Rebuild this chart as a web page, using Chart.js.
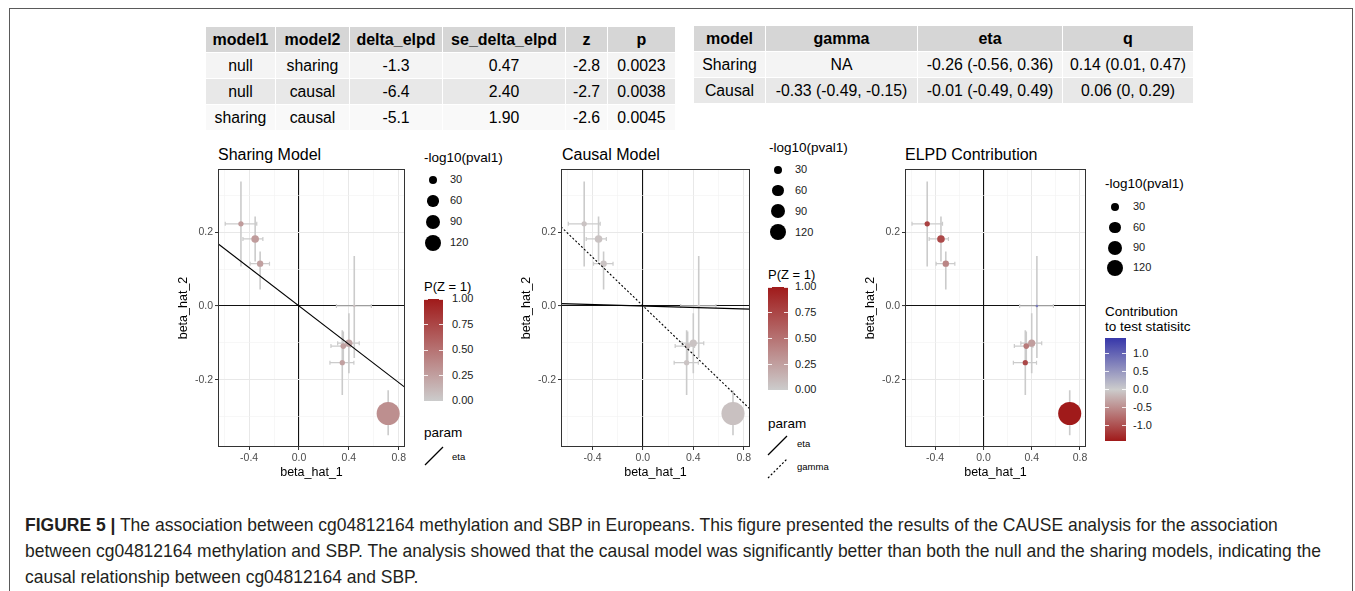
<!DOCTYPE html>
<html>
<head>
<meta charset="utf-8">
<title>CAUSE analysis: cg04812164 and SBP</title>
<script src="https://cdn.jsdelivr.net/npm/chart.js@4.4.1/dist/chart.umd.min.js"></script>
<style>
  html, body { margin: 0; padding: 0; background: #fff; }
  body { width: 1355px; height: 591px; position: relative; overflow: hidden;
         font-family: 'Liberation Sans', Arial, Helvetica, sans-serif; color: #000; }
  #frame { position: absolute; left: 9px; top: 8px; width: 1344px; height: 700px;
           border: 1.5px solid #5a5a5a; box-sizing: border-box; }
  table.tbl { position: absolute; border-collapse: collapse; table-layout: fixed; font-size: 15.8px; }
  .tbl th, .tbl td { height: 25px; padding: 0; text-align: center; border: 1.5px solid #fff; white-space: nowrap; }
  .tbl th { background: #d6d6d6; font-weight: bold; font-size: 16px; }
  .tbl tr.light td { background: #f4f4f4; }
  .tbl tr.grey td { background: #e8e8e8; }
  .tbl tr.white td { background: #f9f9f9; }
  canvas { position: absolute; top: 140px; }
  .ptitle { position: absolute; top: 145px; font-size: 16px; line-height: 1.2; white-space: nowrap; }
  .lt { position: absolute; white-space: nowrap; line-height: 1.2; }
  .dot { position: absolute; background: #000; border-radius: 50%; }
  .bar { position: absolute; }
  .btick { position: absolute; height: 1px; width: 4px; background: rgba(255,255,255,0.85); }
  #caption { position: absolute; left: 25px; top: 512px; line-height: 26px; font-size: 16px; color: #231f20; }
  #caption .ln { display: inline-block; white-space: nowrap; }
</style>
</head>
<body>
<div id="frame"></div>

<div class="ptitle" style="left:218px">Sharing Model</div>
<div class="ptitle" style="left:562px">Causal Model</div>
<div class="ptitle" style="left:905px">ELPD Contribution</div>

<canvas id="sharing" width="240" height="340" style="left:170px"></canvas>
<canvas id="causal" width="242" height="340" style="left:513px"></canvas>
<canvas id="elpd" width="234" height="340" style="left:857px"></canvas>

<div id="caption">
  <span class="ln"><b>FIGURE 5 |</b> The association between cg04812164 methylation and SBP in Europeans. This figure presented the results of the CAUSE analysis for the association</span><br>
  <span class="ln">between cg04812164 methylation and SBP. The analysis showed that the causal model was significantly better than both the null and the sharing models, indicating the</span><br>
  <span class="ln">causal relationship between cg04812164 and SBP.</span>
</div>

<script>
// ---- table contents ----
const cmpHeader = ['model1', 'model2', 'delta_elpd', 'se_delta_elpd', 'z', 'p'];
const cmpRows = [
  ['null', 'sharing', '-1.3', '0.47', '-2.8', '0.0023'],
  ['null', 'causal', '-6.4', '2.40', '-2.7', '0.0038'],
  ['sharing', 'causal', '-5.1', '1.90', '-2.6', '0.0045']
];
const paramHeader = ['model', 'gamma', 'eta', 'q'];
const paramRows = [
  ['Sharing', 'NA', '-0.26 (-0.56, 0.36)', '0.14 (0.01, 0.47)'],
  ['Causal', '-0.33 (-0.49, -0.15)', '-0.01 (-0.49, 0.49)', '0.06 (0, 0.29)']
];

// ---- variant data (same 8 variants in every panel) ----
const beta1   = [-0.466, -0.352, -0.312, 0.443, 0.400, 0.355, 0.347, 0.715];
const beta2   = [0.223, 0.182, 0.115, 0.000, -0.101, -0.109, -0.154, -0.292];
const beta1Lo = [-0.592, -0.450, -0.392, 0.300, 0.310, 0.256, 0.248, 0.690];
const beta1Hi = [-0.339, -0.290, -0.237, 0.580, 0.483, 0.410, 0.440, 0.740];
const beta2Lo = [0.107, 0.121, 0.045, -0.141, -0.183, -0.149, -0.242, -0.351];
const beta2Hi = [0.338, 0.243, 0.148, 0.136, -0.020, -0.069, -0.066, -0.229];
const negLog10P = [13, 27, 19, 3, 24, 15, 13, 250];
const pzSharing = [0.27, 0.27, 0.25, 0.08, 0.22, 0.25, 0.25, 0.34];
const pzCausal  = [0.05, 0.05, 0.05, 0.04, 0.05, 0.05, 0.05, 0.06];
const elpdContrib = [-1.12, -1.05, -0.57, 0.8, -0.37, -0.66, -1.06, -1.43];

// fitted lines (end points)
const sharingEtaX = [-0.65, 0.85], sharingEtaY = [0.169, -0.221];
const causalEtaX = [-0.65, 0.85],  causalEtaY = [0.0065, -0.0085];
const causalGammaX = [-0.65, 0.85], causalGammaY = [0.215, -0.28];

// legend breaks
const sizeBreaks = [30, 60, 90, 120];
const pzBreaks = [0, 0.25, 0.5, 0.75, 1];
const pzLimits = [0, 1];
const contribBreaks = [-1, -0.5, 0, 0.5, 1];
const contribLimits = [-1.43, 1.43];

const xRange = [-0.65, 0.85];
const yRange = [-0.383, 0.372];

Chart.defaults.font.family = "'Liberation Sans', Arial, Helvetica, sans-serif";

// ---- tables ----
function buildTable(header, rows, widths, left, top, rowClasses) {
  const t = document.createElement('table');
  t.className = 'tbl';
  t.style.left = left + 'px';
  t.style.top = top + 'px';
  const cg = document.createElement('colgroup');
  widths.forEach(w => { const c = document.createElement('col'); c.style.width = w + 'px'; cg.appendChild(c); });
  t.appendChild(cg);
  const hr = t.insertRow();
  header.forEach(h => { const th = document.createElement('th'); th.textContent = h; hr.appendChild(th); });
  rows.forEach((r, i) => {
    const tr = t.insertRow();
    tr.className = rowClasses[i];
    r.forEach(v => { tr.insertCell().textContent = v; });
  });
  document.body.appendChild(t);
}
buildTable(cmpHeader, cmpRows, [70, 74, 93, 123, 42, 68], 205, 26, ['light', 'grey', 'white']);
buildTable(paramHeader, paramRows, [72, 152, 145, 131], 693, 25, ['light', 'grey']);

// ---- scales for aesthetics ----
const sizeRadius = v => 0.73 * Math.sqrt(v);
const mix = (a, b, t) => a.map((c, i) => Math.round(c + (b[i] - c) * t));
const GREY = [204, 204, 204], RED = [160, 26, 26], BLUE = [55, 55, 170];
const pzColor = v => 'rgb(' + mix(GREY, RED, v) + ')';
const contribColor = v => v < 0
  ? 'rgb(' + mix(GREY, RED, v / contribLimits[0]) + ')'
  : 'rgb(' + mix(GREY, BLUE, v / contribLimits[1]) + ')';

// ---- plugins ----
const errorBars = {
  id: 'errorBars',
  beforeDatasetsDraw(chart) {
    const {ctx, chartArea: a, scales: {x, y}} = chart;
    ctx.save();
    ctx.beginPath();
    ctx.rect(a.left, a.top, a.right - a.left, a.bottom - a.top);
    ctx.clip();
    ctx.strokeStyle = '#cbcbcb';
    ctx.lineWidth = 1.6;
    ctx.beginPath();
    beta1.forEach((b, i) => {
      const px = x.getPixelForValue(b);
      ctx.moveTo(px, y.getPixelForValue(beta2Lo[i]));
      ctx.lineTo(px, y.getPixelForValue(beta2Hi[i]));
    });
    ctx.stroke();
    ctx.lineWidth = 1.2;
    ctx.beginPath();
    beta1.forEach((b, i) => {
      const py = y.getPixelForValue(beta2[i]);
      const xl = x.getPixelForValue(beta1Lo[i]), xr = x.getPixelForValue(beta1Hi[i]);
      ctx.moveTo(xl, py); ctx.lineTo(xr, py);
      ctx.moveTo(xl, py - 2); ctx.lineTo(xl, py + 2);
      ctx.moveTo(xr, py - 2); ctx.lineTo(xr, py + 2);
    });
    ctx.stroke();
    ctx.restore();
  }
};

const panelBox = {
  id: 'panelBox',
  afterDatasetsDraw(chart) {
    const {ctx, chartArea: a} = chart;
    ctx.save();
    ctx.strokeStyle = '#333';
    ctx.lineWidth = 1;
    ctx.strokeRect(a.left + 0.5, a.top + 0.5, a.right - a.left - 1, a.bottom - a.top - 1);
    ctx.restore();
  }
};

const isMajorX = v => Math.round(v * 10) % 4 === 0;
const isMajorY = v => Math.round(v * 10) % 2 === 0;

function gridFor(isMajor) {
  return {
    color: c => !c.tick ? '#eee' : c.tick.value === 0 ? '#111' : isMajor(c.tick.value) ? '#e8e8e8' : '#f2f2f2',
    lineWidth: c => !c.tick ? 1 : c.tick.value === 0 ? 1.1 : isMajor(c.tick.value) ? 1 : 0.6,
    tickColor: c => c.tick && isMajor(c.tick.value) ? '#333' : 'rgba(0,0,0,0)',
    tickLength: 3,
    tickWidth: 1
  };
}

function pointSet(colors) {
  return {
    type: 'scatter',
    data: beta1.map((b, i) => ({x: b, y: beta2[i]})),
    pointRadius: negLog10P.map(sizeRadius),
    pointHoverRadius: negLog10P.map(sizeRadius),
    pointBackgroundColor: colors,
    pointBorderWidth: 0,
    pointBorderColor: 'rgba(0,0,0,0)'
  };
}

function lineSet(xs, ys, dash) {
  return {
    type: 'line',
    data: xs.map((v, i) => ({x: v, y: ys[i]})),
    borderColor: '#000',
    borderWidth: 1.1,
    borderDash: dash,
    pointRadius: 0,
    fill: false
  };
}

function panel(id, datasets) {
  return new Chart(document.getElementById(id), {
    type: 'scatter',
    data: {datasets},
    options: {
      responsive: false,
      animation: false,
      events: [],
      layout: {autoPadding: false, padding: {top: 29, right: 5, left: 0, bottom: 0}},
      plugins: {legend: {display: false}, tooltip: {enabled: false}},
      scales: {
        x: {
          type: 'linear', min: xRange[0], max: xRange[1],
          afterFit(s) { s.height = 33; s.paddingLeft = 0; s.paddingRight = 0; },
          border: {display: false},
          grid: gridFor(isMajorX),
          ticks: {
            stepSize: 0.2, includeBounds: false, autoSkip: false, maxRotation: 0,
            padding: 2, color: '#4d4d4d', font: {size: 10.5},
            callback: v => isMajorX(v) ? v.toFixed(1) : ''
          },
          title: {display: true, text: 'beta_hat_1', color: '#000', font: {size: 12.5}, padding: {top: 0, bottom: 0}}
        },
        y: {
          type: 'linear', min: yRange[0], max: yRange[1],
          afterFit(s) { s.width = 48; s.paddingTop = 0; s.paddingBottom = 0; },
          border: {display: false},
          grid: gridFor(isMajorY),
          ticks: {
            stepSize: 0.1, includeBounds: false, autoSkip: false,
            padding: 2, color: '#4d4d4d', font: {size: 10.5},
            callback: v => isMajorY(v) ? v.toFixed(1) : ''
          },
          title: {display: true, text: 'beta_hat_2', color: '#000', font: {size: 12.5}, padding: {top: 6, bottom: 0}}
        }
      }
    },
    plugins: [errorBars, panelBox]
  });
}

panel('sharing', [
  lineSet(sharingEtaX, sharingEtaY, []),
  pointSet(pzSharing.map(pzColor))
]);
panel('causal', [
  lineSet(causalEtaX, causalEtaY, []),
  lineSet(causalGammaX, causalGammaY, [2, 2]),
  pointSet(pzCausal.map(pzColor))
]);
panel('elpd', [
  pointSet(elpdContrib.map(contribColor))
]);

// ---- legends ----
function text(str, left, cy, size, color) {
  const d = document.createElement('div');
  d.className = 'lt';
  d.textContent = str;
  d.style.left = left + 'px';
  d.style.top = (cy - size * 0.6) + 'px';
  d.style.fontSize = size + 'px';
  if (color) d.style.color = color;
  document.body.appendChild(d);
}

function sizeLegend(x, titleY, firstY, stepY, circleX, labelX) {
  text('-log10(pval1)', x, titleY, 13.5);
  sizeBreaks.forEach((v, i) => {
    const cy = firstY + i * stepY, r = sizeRadius(v);
    const d = document.createElement('div');
    d.className = 'dot';
    d.style.left = (circleX - r) + 'px';
    d.style.top = (cy - r) + 'px';
    d.style.width = d.style.height = (2 * r) + 'px';
    document.body.appendChild(d);
    text(String(v), labelX, cy, 11, '#1a1a1a');
  });
}

function colorBar(x, top, w, h, gradient, breaks, lim, labelX, digits) {
  const b = document.createElement('div');
  b.className = 'bar';
  b.style.left = x + 'px';
  b.style.top = top + 'px';
  b.style.width = w + 'px';
  b.style.height = h + 'px';
  b.style.background = gradient;
  document.body.appendChild(b);
  breaks.forEach(v => {
    const y = top + (lim[1] - v) / (lim[1] - lim[0]) * h;
    [x, x + w - 4].forEach(tx => {
      const t = document.createElement('div');
      t.className = 'btick';
      t.style.left = tx + 'px';
      t.style.top = (y - 0.5) + 'px';
      document.body.appendChild(t);
    });
    text(v.toFixed(digits), labelX, y, 11, '#1a1a1a');
  });
}

function keyLine(x1, y1, x2, y2, dash) {
  const left = Math.min(x1, x2) - 2, top = Math.min(y1, y2) - 2;
  const w = Math.abs(x2 - x1) + 4, h = Math.abs(y2 - y1) + 4;
  const d = document.createElement('div');
  d.style.position = 'absolute';
  d.style.left = left + 'px';
  d.style.top = top + 'px';
  d.innerHTML = '<svg width="' + w + '" height="' + h + '"><line x1="' + (x1 - left) + '" y1="' + (y1 - top) +
    '" x2="' + (x2 - left) + '" y2="' + (y2 - top) + '" stroke="#000" stroke-width="1.2"' +
    (dash ? ' stroke-dasharray="' + dash + '"' : '') + '/></svg>';
  document.body.appendChild(d);
}

const pzGradient = 'linear-gradient(to top, rgb(' + GREY + '), rgb(' + RED + '))';
const contribGradient = 'linear-gradient(to top, rgb(' + RED + '), rgb(' + GREY + ') 50%, rgb(' + BLUE + '))';

// Sharing panel legend
sizeLegend(424, 158, 180, 21, 433, 450);
text('P(Z = 1)', 424, 287, 13);
colorBar(424, 299, 19, 102, pzGradient, pzBreaks, pzLimits, 452, 2);
text('param', 424, 433, 13.5);
keyLine(425, 465, 443, 447);
text('eta', 452, 457, 9.5);

// Causal panel legend
sizeLegend(769, 148, 170, 20.7, 778, 795);
text('P(Z = 1)', 768, 275, 13);
colorBar(768, 287, 20, 103, pzGradient, pzBreaks, pzLimits, 795, 2);
text('param', 768, 424, 13.5);
keyLine(768, 455, 787, 436);
text('eta', 797, 444, 9.5);
keyLine(768, 478, 787, 459, '2,2');
text('gamma', 797, 467, 9.5);

// ELPD panel legend
sizeLegend(1105, 184, 207, 20.3, 1115, 1133);
text('Contribution', 1105, 312, 13.5);
text('to test statisitc', 1105, 327, 13.5);
colorBar(1105, 338, 21, 103, contribGradient, contribBreaks, contribLimits, 1133, 1);

// ---- fit caption width to the reference line length ----
const capLines = document.querySelectorAll('#caption .ln');
const w2 = capLines[1].getBoundingClientRect().width;
document.getElementById('caption').style.fontSize = (16 * 1297 / w2) + 'px';
</script>
</body>
</html>
